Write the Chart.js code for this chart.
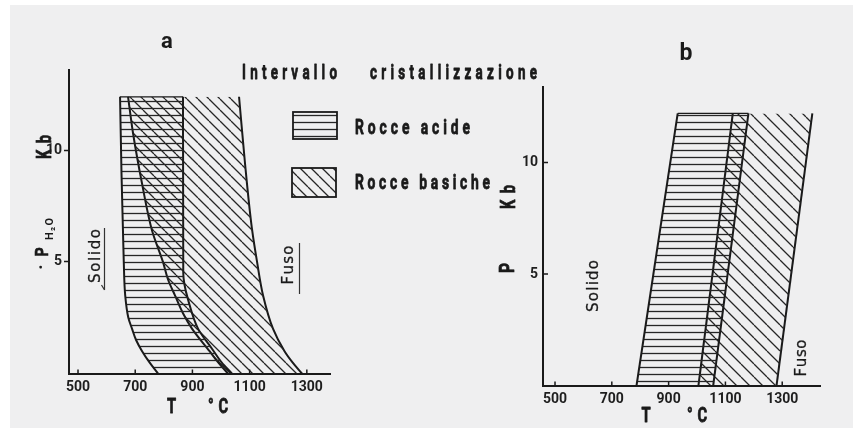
<!DOCTYPE html>
<html><head><meta charset="utf-8">
<script src="https://cdn.jsdelivr.net/npm/chart.js@4.4.1/dist/chart.umd.min.js"></script>
<style>
html,body{margin:0;padding:0;background:#fff;width:853px;height:431px;overflow:hidden;}
#paper{position:absolute;left:10px;top:5px;width:843px;height:423px;background:#efeff0;}
canvas{position:absolute;left:0;top:0;}
</style></head><body>
<div id="paper"></div>
<canvas id="cb" width="853" height="431"></canvas>
<canvas id="ca" width="853" height="431"></canvas>
<script>
// ================= DATA =================
const T_TICKS = [500, 700, 900, 1100, 1300];   // °C
const P_TICKS = [5, 10];                         // kb

// Panel a : P_H2O (kb) vs T (°C)
const A_ACID_SOLIDUS_P  = [0, 0.5, 1.0, 1.5, 2.0, 2.5, 3.5, 5.0, 6.5, 9.0, 12.4];
const A_ACID_SOLIDUS_T  = [780, 750, 724, 703, 689, 676, 665, 660, 657, 652, 647];
const A_ACID_LIQUIDUS_P = [0, 0.5, 1.1, 2.0, 3.3, 4.0, 4.5, 12.4];
const A_ACID_LIQUIDUS_T = [1038, 1002, 969, 920, 885, 872, 868, 867];
const A_BASIC_SOLIDUS_P = [0, 0.5, 1.0, 2.0, 2.7, 3.5, 4.2, 5.0, 6.4, 8.5, 10.8, 12.4];
const A_BASIC_SOLIDUS_T = [1024, 990, 960, 899, 867, 839, 815, 797, 759, 724, 692, 675];
const A_BASIC_LIQUIDUS_P = [0, 0.5, 1.0, 2.0, 3.5, 5.0, 6.5, 9.4, 12.4];
const A_BASIC_LIQUIDUS_T = [1283, 1250, 1222, 1182, 1147, 1126, 1108, 1084, 1063];

// Panel b : P (kb) vs T (°C)
const B_P = [0, 12.2];
const B_ACID_SOLIDUS_T   = [787, 932];
const B_ACID_LIQUIDUS_T  = [1057, 1181];
const B_BASIC_SOLIDUS_T  = [1005, 1126];
const B_BASIC_LIQUIDUS_T = [1280, 1406];

// Texts
const PANEL_LABELS = ['a', 'b'];
const HEADER = ['Intervallo', 'cristallizzazione'];
const LEGEND_LABELS = ['Rocce acide', 'Rocce basiche'];
const X_TITLE = ['T', '°C'];
const Y_TITLE_A = ['·', 'P', 'H₂O', 'Kb'];
const Y_TITLE_B = ['P', 'Kb'];
const FIELD_LABELS = ['Solido', 'Fuso'];

// ================= STYLE HELPERS =================
const INK = '#1a1a1a';
const COND = 'Roboto, "DejaVu Sans", sans-serif';
const PLAIN = '"DejaVu Sans", sans-serif';
const TICKFONT = {family: 'Roboto, "DejaVu Sans", sans-serif', weight: 'bold', size: 14};

function makeHatch(ctx, kind, step) {
  const c = document.createElement('canvas');
  c.width = step; c.height = step;
  const g = c.getContext('2d');
  g.strokeStyle = '#262626';
  g.lineWidth = 1.3;
  g.beginPath();
  if (kind === 'h') { g.moveTo(0, step / 2); g.lineTo(step, step / 2); }
  else { for (let k = -1; k <= 1; k++) { g.moveTo(k * step, 0); g.lineTo(k * step + step, step); } }
  g.stroke();
  return ctx.createPattern(c, 'repeat');
}

function curve(label, P, T, extra) {
  return Object.assign({
    label,
    data: P.map((p, i) => ({x: T[i], y: p})),
    borderColor: INK, borderWidth: 2, pointRadius: 0,
    fill: false, cubicInterpolationMode: 'monotone'
  }, extra || {});
}
function topEdge(label, T1, T2, P) {
  return {label, data: [{x: T1[T1.length - 1], y: P[P.length - 1]}, {x: T2[T2.length - 1], y: P[P.length - 1]}],
    borderColor: INK, borderWidth: 1.3, pointRadius: 0, fill: false};
}

// text drawn char by char: glyphs condensed by sx, spread over `width`
function drawLabel(ctx, text, cx, cy, o) {
  ctx.save();
  ctx.font = o.font;
  ctx.fillStyle = o.color || INK;
  ctx.strokeStyle = o.color || INK;
  ctx.lineWidth = o.stroke || 0;
  ctx.lineJoin = 'round';
  ctx.textAlign = 'left';
  ctx.textBaseline = o.baseline || 'alphabetic';
  ctx.translate(cx, cy);
  if (o.rot) ctx.rotate(o.rot);
  const sx = o.sx || 1;
  const chars = Array.from(text);
  const ws = chars.map(ch => ctx.measureText(ch).width * sx);
  const sum = ws.reduce((a, b) => a + b, 0);
  const width = o.width || sum;
  const gap = chars.length > 1 ? (width - sum) / (chars.length - 1) : 0;
  let x = -width / 2;
  chars.forEach((ch, i) => {
    ctx.save();
    ctx.translate(x, 0);
    ctx.scale(sx, 1);
    ctx.fillText(ch, 0, 0);
    if (o.stroke) ctx.strokeText(ch, 0, 0);
    ctx.restore();
    x += ws[i] + gap;
  });
  ctx.restore();
}

function inwardTicks(chart, axisId, len) {
  const s = chart.scales[axisId], ctx = chart.ctx, a = chart.chartArea;
  ctx.save();
  ctx.strokeStyle = INK; ctx.lineWidth = 1.5;
  ctx.beginPath();
  s.ticks.forEach(t => {
    const p = s.getPixelForValue(t.value);
    if (axisId === 'x') { ctx.moveTo(p, a.bottom); ctx.lineTo(p, a.bottom - len); }
    else { ctx.moveTo(a.left, p); ctx.lineTo(a.left + len, p); }
  });
  ctx.stroke();
  ctx.restore();
}

function underline(ctx, x, y1, y2, arrow) {
  ctx.save();
  ctx.strokeStyle = '#333'; ctx.lineWidth = 1.2;
  ctx.beginPath(); ctx.moveTo(x, y1); ctx.lineTo(x, y2);
  if (arrow) { ctx.moveTo(x, y2); ctx.lineTo(x - 3, y2 - 5); }
  ctx.stroke();
  ctx.restore();
}

function scales(xmin, xmax, ymax, yInward) {
  return {
    x: {
      type: 'linear', min: xmin, max: xmax,
      afterBuildTicks: s => { s.ticks = T_TICKS.map(v => ({value: v})); },
      afterFit: s => { s.height = 30; s.paddingLeft = 0; s.paddingRight = 0; },
      grid: {display: true, drawOnChartArea: false, drawTicks: false},
      border: {display: true, color: INK, width: 2},
      ticks: {padding: 6, font: TICKFONT, color: '#1e1e1e', maxRotation: 0, autoSkip: false,
               callback: v => String(v)}
    },
    y: {
      type: 'linear', min: 0, max: ymax,
      afterBuildTicks: s => { s.ticks = P_TICKS.map(v => ({value: v})); },
      afterFit: s => { s.width = 40; s.paddingTop = 0; s.paddingBottom = 0; },
      grid: {display: true, drawOnChartArea: false, drawTicks: !yInward, tickLength: 5, tickColor: INK, tickWidth: 1.5},
      border: {display: true, color: INK, width: 2},
      ticks: {padding: yInward ? 5 : 2, font: TICKFONT, color: '#1e1e1e', autoSkip: false,
               callback: v => String(v)}
    }
  };
}

const R = -Math.PI / 2;
const BIG = 'bold 21px ' + COND;

// ================= PANEL a =================
const ctxA = document.getElementById('ca').getContext('2d');
const hA = makeHatch(ctxA, 'h', 7), dA = makeHatch(ctxA, 'd', 11);

const annotA = {
  id: 'annotA',
  afterDraw(chart) {
    const ctx = chart.ctx;
    inwardTicks(chart, 'x', 4);
    drawLabel(ctx, PANEL_LABELS[0], 167, 48, {font: 'bold 22px Roboto, sans-serif'});
    // header
    drawLabel(ctx, HEADER[0], 289.5, 79, {font: BIG, sx: 0.64, width: 95, stroke: 0.8});
    drawLabel(ctx, HEADER[1], 453.5, 79, {font: BIG, sx: 0.64, width: 167, stroke: 0.8});
    // legend
    const boxes = [[293, 112, 44, 27, chart.data.datasets[0].backgroundColor], [292, 168, 44, 29, chart.data.datasets[2].backgroundColor]];
    boxes.forEach(b => {
      ctx.save();
      ctx.fillStyle = b[4]; ctx.fillRect(b[0], b[1], b[2], b[3]);
      ctx.strokeStyle = INK; ctx.lineWidth = 1.8; ctx.strokeRect(b[0], b[1], b[2], b[3]);
      ctx.restore();
    });
    drawLabel(ctx, LEGEND_LABELS[0], 412.5, 134, {font: BIG, sx: 0.66, width: 115, stroke: 0.8});
    drawLabel(ctx, LEGEND_LABELS[1], 422.5, 189, {font: BIG, sx: 0.66, width: 135, stroke: 0.8});
    // x title
    drawLabel(ctx, X_TITLE[0], 171.5, 413, {font: BIG, sx: 0.7, stroke: 0.8});
    drawLabel(ctx, X_TITLE[1], 218, 413, {font: BIG, sx: 0.7, width: 20, stroke: 0.8});
    // y title (rotated)
    drawLabel(ctx, Y_TITLE_A[3], 46, 147, {font: BIG, sx: 0.7, rot: R, baseline: 'middle', width: 24, stroke: 0.8});
    drawLabel(ctx, Y_TITLE_A[1], 43, 252, {font: 'bold 19px ' + COND, sx: 0.75, rot: R, baseline: 'middle', stroke: 0.6});
    drawLabel(ctx, Y_TITLE_A[2], 50, 229, {font: 'bold 11px ' + COND, rot: R, baseline: 'middle', width: 22});
    drawLabel(ctx, Y_TITLE_A[0], 42, 267, {font: 'bold 18px ' + COND, rot: R, baseline: 'middle'});
    // field labels
    drawLabel(ctx, FIELD_LABELS[0], 96, 256, {font: '15px ' + PLAIN, rot: R, baseline: 'middle', width: 54, stroke: 0.3});
    underline(ctx, 104.5, 228, 290, true);
    drawLabel(ctx, FIELD_LABELS[1], 289, 265, {font: '15px ' + PLAIN, rot: R, baseline: 'middle', width: 39, stroke: 0.3});
    underline(ctx, 299.5, 243, 294, false);
  }
};

new Chart(ctxA, {
  type: 'line',
  data: {
    datasets: [
      curve('Rocce acide – solidus', A_ACID_SOLIDUS_P, A_ACID_SOLIDUS_T, {fill: '+1', backgroundColor: hA}),
      curve('Rocce acide – liquidus', A_ACID_LIQUIDUS_P, A_ACID_LIQUIDUS_T),
      curve('Rocce basiche – solidus', A_BASIC_SOLIDUS_P, A_BASIC_SOLIDUS_T, {fill: '+1', backgroundColor: dA}),
      curve('Rocce basiche – liquidus', A_BASIC_LIQUIDUS_P, A_BASIC_LIQUIDUS_T),
      topEdge('top', A_ACID_SOLIDUS_T, A_ACID_LIQUIDUS_T, A_ACID_SOLIDUS_P)
    ]
  },
  options: {
    responsive: false, animation: false, events: [], indexAxis: 'y',
    layout: {padding: {left: 29, right: 523, top: 70, bottom: 27.5}},
    plugins: {legend: {display: false}, tooltip: {enabled: false}},
    scales: scales(468.5, 1381, 13.6, false)
  },
  plugins: [annotA]
});

// ================= PANEL b =================
const ctxB = document.getElementById('cb').getContext('2d');
const hB = makeHatch(ctxB, 'h', 7), dB = makeHatch(ctxB, 'd', 13);

const annotB = {
  id: 'annotB',
  afterDraw(chart) {
    const ctx = chart.ctx;
    inwardTicks(chart, 'x', 4);
    inwardTicks(chart, 'y', 5);
    drawLabel(ctx, PANEL_LABELS[1], 686, 60, {font: 'bold 23px Roboto, sans-serif'});
    drawLabel(ctx, X_TITLE[0], 646, 422, {font: BIG, sx: 0.7, stroke: 0.8});
    drawLabel(ctx, X_TITLE[1], 697, 422, {font: BIG, sx: 0.7, width: 20, stroke: 0.8});
    drawLabel(ctx, Y_TITLE_B[0], 509, 268, {font: BIG, sx: 0.75, rot: R, baseline: 'middle', stroke: 0.8});
    drawLabel(ctx, Y_TITLE_B[1], 510, 197, {font: BIG, sx: 0.7, rot: R, baseline: 'middle', width: 24, stroke: 0.8});
    drawLabel(ctx, FIELD_LABELS[0], 594, 286, {font: '15px ' + PLAIN, rot: R, baseline: 'middle', width: 52, stroke: 0.3});
    drawLabel(ctx, FIELD_LABELS[1], 802, 358, {font: '15px ' + PLAIN, rot: R, baseline: 'middle', width: 37, stroke: 0.3});
  }
};

new Chart(ctxB, {
  type: 'line',
  data: {
    datasets: [
      curve('Rocce acide – solidus', B_P, B_ACID_SOLIDUS_T, {fill: '+1', backgroundColor: hB}),
      curve('Rocce acide – liquidus', B_P, B_ACID_LIQUIDUS_T),
      curve('Rocce basiche – solidus', B_P, B_BASIC_SOLIDUS_T, {fill: '+1', backgroundColor: dB}),
      curve('Rocce basiche – liquidus', B_P, B_BASIC_LIQUIDUS_T),
      topEdge('top', B_ACID_SOLIDUS_T, B_ACID_LIQUIDUS_T, B_P)
    ]
  },
  options: {
    responsive: false, animation: false, events: [], indexAxis: 'y',
    layout: {padding: {left: 503, right: 33, top: 86.7, bottom: 15.5}},
    plugins: {legend: {display: false}, tooltip: {enabled: false}},
    scales: scales(457.7, 1433, 13.4, true)
  },
  plugins: [annotB]
});
</script>
</body></html>
